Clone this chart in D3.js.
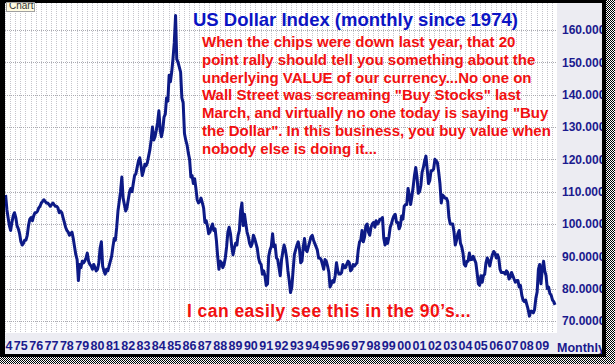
<html>
<head>
<script src="https://d3js.org/d3.v7.min.js"></script>
<style>
  body { margin: 0; background: #fff; }
</style>
</head>
<body>
<svg id="chart" width="615" height="364"></svg>
<script>
// monthly values of the US Dollar Index, Jan 1974 .. Nov 2009
const startYear = 1974;
const dxyClose = [
  109, 104.5, 102, 99.5, 98, 100.5, 102.5, 103.5, 102, 99.5, 98.5, 97,          // 1974
  94.5, 93.5, 94, 95, 95, 96.5, 99.5, 101.5, 102, 101, 102.5, 103.5,            // 1975
  103.5, 104, 105, 105.5, 106.5, 107, 107.5, 107, 106.5, 106.5, 106, 105.5,     // 1976
  106, 106.5, 106, 105.5, 105.5, 105, 103.5, 104, 103.5, 102, 100.5, 99,        // 1977
  98, 97.5, 96.5, 97, 97.5, 95.5, 93, 90.5, 89, 82.5, 87.5, 86.5,               // 1978
  88.5, 88, 88.5, 89.5, 91, 88.5, 87.5, 87, 86, 87.5, 86.5, 85.5,               // 1979
  86, 88, 92.5, 94.5, 87, 85.5, 84.5, 86, 85.5, 87, 88.5, 90,                   // 1980
  93, 95.5, 95, 99, 104, 107, 110, 114.5, 108, 106, 104, 105,                   // 1981
  107.5, 110, 111, 110, 112.5, 115, 115.5, 117.5, 119.5, 120.5, 118, 115,       // 1982
  116.5, 118.5, 118, 119, 121, 123, 126, 130, 126, 127, 129, 131.5,             // 1983
  135, 129, 127, 129, 133, 134, 139, 138, 146, 144, 147, 151,                   // 1984
  156, 164.5, 151, 150, 148.5, 147, 139, 137.5, 128, 126, 124.5, 122,           // 1985
  120, 114.5, 115, 112.5, 114, 111, 107.5, 106.5, 107, 108, 106.5, 105,         // 1986
  100.5, 101, 99.5, 97, 97.5, 99, 100, 98, 98.5, 95, 90, 86,                    // 1987
  88.5, 88, 86.5, 87.5, 89.5, 93, 97.5, 99, 97, 93, 90.5, 92.5,                 // 1988
  94, 93.5, 96.5, 98, 104, 106.5, 99.5, 103, 100, 97.5, 96, 94,                 // 1989
  93, 94, 96.5, 95.5, 94, 92.5, 89.5, 88, 87.5, 84.5, 85.5, 84,                 // 1990
  81, 81.5, 90, 92, 93, 97, 93, 93.5, 89.5, 89, 86.5, 84,                       // 1991
  89, 91.5, 93.5, 92, 89.5, 85.5, 82.5, 78.8, 80.5, 85.5, 90.5, 92,             // 1992
  93.5, 94.5, 92.5, 88, 88.5, 93, 95.5, 92, 91.5, 93, 94.5, 96,                 // 1993
  96.5, 95, 94, 93, 92, 89.5, 89.5, 89, 87.5, 86, 89, 88.5,                     // 1994
  87, 85, 80.5, 81.5, 82.5, 82, 84, 88, 85.5, 84.5, 84.5, 85,                   // 1995
  87.5, 86.5, 86.5, 87.5, 88.5, 88, 85.5, 86, 87.5, 87, 87.5, 88,               // 1996
  92, 94.5, 95, 98, 94.5, 96, 99.5, 100, 97.5, 96.5, 99, 100,                   // 1997
  100.5, 99, 101, 100, 100.5, 101.5, 101.5, 102, 95.5, 93.5, 95.5, 94,          // 1998
  96, 99, 100, 101.5, 102.5, 103, 100.5, 100.5, 98.5, 99.5, 102.5, 101.5,       // 1999
  105.5, 106, 106, 111, 109, 106, 108.5, 111.5, 115, 117.5, 114.5, 109.5,       // 2000
  110, 112, 116, 117.5, 119.5, 121, 117, 112.5, 113.5, 116.5, 116.5, 117,       // 2001
  120, 119.5, 119, 116, 112.5, 106.5, 109, 108.5, 108, 108, 107, 102,           // 2002
  100, 100, 100, 97.5, 93.5, 95, 97, 98, 94, 93, 91, 87.5,                      // 2003
  87, 88.5, 88.5, 91, 89, 89, 90, 89, 88, 85, 81.5, 81,                         // 2004
  84, 82, 84, 84.5, 88, 89.5, 88.5, 87, 89, 90.5, 91.5, 91,                     // 2005
  89.5, 90.5, 89.5, 86, 85, 85, 85, 84.5, 85.5, 85, 83, 83.5,                   // 2006
  85, 84, 83, 82, 82.5, 82.5, 80.5, 81, 78, 76.5, 76, 76.5,                     // 2007
  75, 73.5, 71.5, 73, 73, 72.5, 73.5, 77, 79, 86, 87.5, 81.5,                   // 2008
  86, 88.5, 85.5, 84, 80, 80.5, 78.5, 78, 76.5, 76, 75                          // 2009
];
const yTicks = [70, 80, 90, 100, 110, 120, 130, 140, 150, 160];
const yearLabels = d3.range(1974, 2010);
const chartTitle = "US Dollar Index (monthly since 1974)";
const noteLines = [
  "When the chips were down last year, that 20",
  "point rally should tell you something about the",
  "underlying VALUE of our currency...No one on",
  "Wall Street was screaming \"Buy Stocks\" last",
  "March, and virtually no one today is saying \"Buy",
  "the Dollar\". In this business, you buy value when",
  "nobody else is doing it..."
];
const footNote = "I can easily see this in the 90\u2019s...";

const svg = d3.select("#chart");
const navy = "#1a1a8e";
const font = "Liberation Sans, Arial, sans-serif";

const plot = { left: 5, top: 3, right: 557, bottom: 333 };

const x = d3.scaleTime()
    .domain([new Date(1974, 0, 1), new Date(2010, 0, 1)])
    .range([plot.left, plot.right]);
const y = d3.scaleLinear()
    .domain([70, 160])
    .range([321, 30]);

const data = dxyClose.map((v, i) => ({ date: new Date(startYear, i, 15), value: v }));

// backgrounds
svg.append("rect").attr("width", 615).attr("height", 364).attr("fill", "#ececf2");
svg.append("rect")
    .attr("x", plot.left).attr("y", plot.top)
    .attr("width", plot.right - plot.left).attr("height", plot.bottom - plot.top)
    .attr("fill", "#ffffff");

svg.append("clipPath").attr("id", "plotclip")
  .append("rect")
    .attr("x", plot.left).attr("y", plot.top)
    .attr("width", plot.right - plot.left).attr("height", plot.bottom - plot.top);

// grid
const grid = svg.append("g").attr("stroke", "#c6c6cc").attr("stroke-dasharray", "1,1");
grid.selectAll("line.v")
    .data(d3.timeMonth.every(4).range(x.domain()[0], x.domain()[1]))
    .join("line")
    .attr("class", "v")
    .attr("x1", d => Math.round(x(d)) + 0.5).attr("x2", d => Math.round(x(d)) + 0.5)
    .attr("y1", plot.top).attr("y2", plot.bottom);
grid.selectAll("line.h")
    .data(yTicks)
    .join("line")
    .attr("class", "h")
    .attr("stroke", "#aaaab0")
    .attr("x1", plot.left).attr("x2", plot.right)
    .attr("y1", d => Math.round(y(d)) + 0.5).attr("y2", d => Math.round(y(d)) + 0.5);

// annotation texts
svg.append("text")
    .attr("x", 193).attr("y", 26)
    .attr("fill", "#0c14c4")
    .style("font-family", font)
    .style("font-weight", "bold")
    .style("font-size", "18.5px")
    .text(chartTitle);

svg.append("g").selectAll("text")
    .data(noteLines)
    .join("text")
    .attr("x", 202)
    .attr("y", (d, i) => 47 + i * 17.8)
    .attr("fill", "#f21010")
    .style("font-family", font)
    .style("font-weight", "bold")
    .style("font-size", "15px")
    .text(d => d);

svg.append("text")
    .attr("x", 187).attr("y", 317)
    .attr("fill", "#f21010")
    .style("font-family", font)
    .style("font-weight", "bold")
    .style("font-size", "17.5px")
    .style("letter-spacing", "0.45px")
    .text(footNote);

// price line
svg.append("path")
    .datum(data)
    .attr("clip-path", "url(#plotclip)")
    .attr("fill", "none")
    .attr("stroke", "#0d1a86")
    .attr("stroke-width", 3)
    .attr("stroke-linejoin", "round")
    .attr("d", d3.line().x(d => x(d.date)).y(d => y(d.value)));

// right axis
const yAxis = svg.append("g")
    .attr("transform", "translate(562,0)")
    .call(d3.axisRight(y).tickValues(yTicks).tickFormat(d3.format(".4f")).tickSize(0).tickPadding(0));
yAxis.select(".domain").remove();
yAxis.selectAll("text")
    .attr("fill", navy)
    .style("font-family", font)
    .style("font-weight", "bold")
    .style("font-size", "12px");

// bottom axis
const xAxis = svg.append("g")
    .attr("transform", "translate(0,341)")
    .call(d3.axisBottom(x)
        .tickValues(yearLabels.map(yr => new Date(yr, 0, 1)))
        .tickFormat(d3.timeFormat("%y"))
        .tickSize(0).tickPadding(0));
xAxis.select(".domain").remove();
xAxis.selectAll("text")
    .attr("fill", navy)
    .style("font-family", font)
    .style("font-weight", "bold")
    .style("font-size", "12.5px");

svg.append("text")
    .attr("x", 557).attr("y", 352)
    .attr("fill", navy)
    .style("font-family", font)
    .style("font-weight", "bold")
    .style("font-size", "12.5px")
    .text("Monthly");

// frame
const defs = svg.append("defs");
const pat = defs.append("pattern").attr("id", "checker")
    .attr("patternUnits", "userSpaceOnUse").attr("width", 2).attr("height", 2);
pat.append("rect").attr("width", 2).attr("height", 2).attr("fill", "#ffffff");
pat.append("rect").attr("width", 1).attr("height", 1).attr("fill", "#000000");
pat.append("rect").attr("x", 1).attr("y", 1).attr("width", 1).attr("height", 1).attr("fill", "#000000");

svg.append("rect").attr("x", 606).attr("y", 0).attr("width", 9).attr("height", 364).attr("fill", "url(#checker)");
svg.append("rect").attr("x", 0).attr("y", 357).attr("width", 615).attr("height", 7).attr("fill", "url(#checker)");
svg.append("rect").attr("x", 0).attr("y", 0).attr("width", 606).attr("height", 3).attr("fill", "#000");
svg.append("rect").attr("x", 0).attr("y", 0).attr("width", 5).attr("height", 357).attr("fill", "#000");
svg.append("rect").attr("x", 602).attr("y", 0).attr("width", 4).attr("height", 357).attr("fill", "#000");
svg.append("rect").attr("x", 0).attr("y", 354).attr("width", 606).attr("height", 3).attr("fill", "#000");

// little "Chart" tab in the corner
svg.append("clipPath").attr("id", "tabclip")
  .append("rect").attr("x", 6).attr("y", 3).attr("width", 29).attr("height", 9);
svg.append("rect")
    .attr("x", 6.5).attr("y", 2.5).attr("width", 28).attr("height", 9)
    .attr("fill", "#fffbe2").attr("stroke", "#a0a0a0");
svg.append("text")
    .attr("clip-path", "url(#tabclip)")
    .attr("x", 9).attr("y", 8.5)
    .attr("fill", "#333")
    .style("font-family", font)
    .style("font-size", "10px")
    .text("Chart");
</script>
</body>
</html>
